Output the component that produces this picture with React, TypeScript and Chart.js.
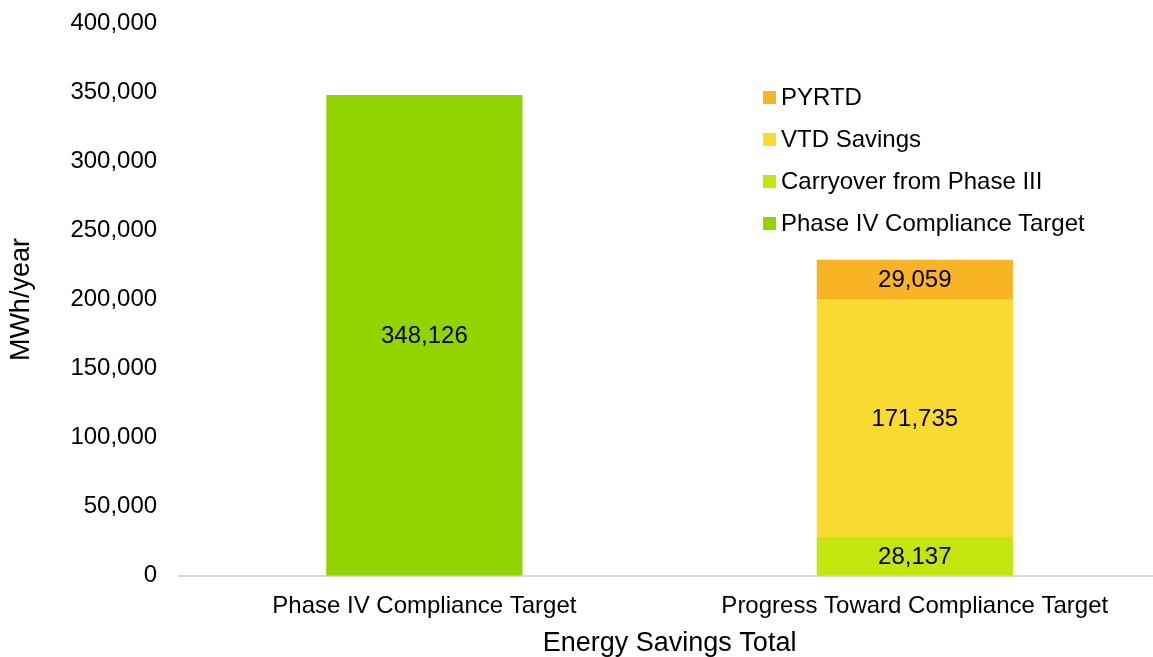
import React, { useEffect, useRef } from "react";
import { Chart, registerables } from "chart.js";

Chart.register(...registerables);

const categories = ["Phase IV Compliance Target", "Progress Toward Compliance Target"];
const phaseIVTarget = [348126, null];
const carryover = [null, 28137];
const vtdSavings = [null, 171735];
const pyrtd = [null, 29059];
const yTicks = [0, 50000, 100000, 150000, 200000, 250000, 300000, 350000, 400000];

const COLORS = {
  phaseIV: "#92D400",
  carry: "#C4E60E",
  vtd: "#F9DA30",
  pyrtd: "#F8B425",
};

const legendItems = [
  { label: "PYRTD", color: COLORS.pyrtd },
  { label: "VTD Savings", color: COLORS.vtd },
  { label: "Carryover from Phase III", color: COLORS.carry },
  { label: "Phase IV Compliance Target", color: COLORS.phaseIV },
];

const FONT = "Arial, 'Liberation Sans', sans-serif";

const labelPlugin = {
  id: "barLabels",
  afterDatasetsDraw(chart: any) {
    const ctx = chart.ctx;
    ctx.save();
    ctx.font = `24px ${FONT}`;
    ctx.fillStyle = "#000";
    ctx.textAlign = "center";
    ctx.textBaseline = "middle";
    chart.data.datasets.forEach((ds: any, i: number) => {
      const meta = chart.getDatasetMeta(i);
      meta.data.forEach((bar: any, j: number) => {
        const v = ds.data[j];
        if (v == null) return;
        const mid = (bar.y + bar.base) / 2;
        ctx.fillText(Number(v).toLocaleString("en-US"), bar.x, mid + 1);
      });
    });
    ctx.restore();
  },
};

const CW = 1160;
const CH = 662;

export default function App() {
  const ref = useRef<HTMLCanvasElement>(null);
  useEffect(() => {
    document.body.style.margin = "0";
    const chart = new Chart(ref.current!, {
      type: "bar",
      data: {
        labels: categories,
        datasets: [
          { label: "Phase IV Compliance Target", data: phaseIVTarget, backgroundColor: COLORS.phaseIV },
          { label: "Carryover from Phase III", data: carryover, backgroundColor: COLORS.carry },
          { label: "VTD Savings", data: vtdSavings, backgroundColor: COLORS.vtd },
          { label: "PYRTD", data: pyrtd, backgroundColor: COLORS.pyrtd },
        ] as any,
      },
      options: {
        animation: false,
        responsive: false,
        maintainAspectRatio: false,
        layout: { padding: { top: -9, right: 0, left: 0, bottom: -3 } },
        plugins: { legend: { display: false }, tooltip: { enabled: false } },
        datasets: { bar: { categoryPercentage: 0.8, barPercentage: 0.5, skipNull: false } } as any,
        scales: {
          x: {
            stacked: true,
            grid: { display: false },
            border: { color: "#D9D9D9", width: 2 },
            ticks: { color: "#000", font: { family: FONT, size: 24 }, padding: 8 },
            title: { display: true, text: "Energy Savings Total", color: "#000", font: { family: FONT, size: 27 }, padding: { top: -1, bottom: 0 } },
          },
          y: {
            stacked: true,
            min: 0,
            max: 400000,
            afterBuildTicks: (axis: any) => { axis.ticks = yTicks.map((v) => ({ value: v })); },
            grid: { display: false },
            border: { display: false },
            ticks: {
              color: "#000",
              font: { family: FONT, size: 24 },
              padding: 14,
              callback: (v: any) => Number(v).toLocaleString("en-US"),
            },
            title: { display: true, text: "MWh/year", color: "#000", font: { family: FONT, size: 27 }, padding: { top: 5, bottom: 19 } },
          },
        },
      },
      plugins: [labelPlugin],
    });
    return () => chart.destroy();
  }, []);
  return (
    <div style={{ position: "relative", width: 1153, height: 657, overflow: "hidden" }}>
      <canvas ref={ref} width={CW} height={CH} style={{ display: "block", position: "absolute", left: 0, top: -5 }} />
      <div style={{ position: "absolute", left: 763, top: 76, fontFamily: FONT, fontSize: 24, color: "#000" }}>
        {legendItems.map((it) => (
          <div key={it.label} style={{ display: "flex", alignItems: "center", height: 42, whiteSpace: "nowrap" }}>
            <span style={{ width: 13, height: 13, background: it.color, display: "inline-block", marginRight: 5 }} />
            <span>{it.label}</span>
          </div>
        ))}
      </div>
    </div>
  );
}
